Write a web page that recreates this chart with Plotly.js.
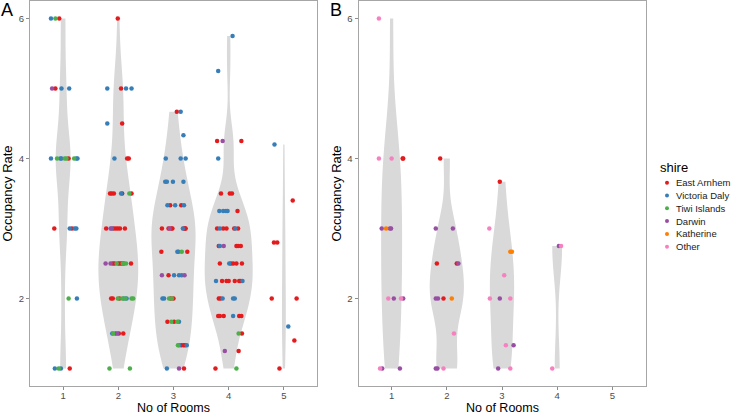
<!DOCTYPE html>
<html><head><meta charset="utf-8">
<script src="https://cdn.plot.ly/plotly-3.0.1.min.js"></script>
<style>html,body{margin:0;padding:0;background:#fff}#chart{width:734px;height:416px}</style>
</head><body><div id="chart"></div>
<script>
// ---- categories / legend ----
const shires = ["East Arnhem","Victoria Daly","Tiwi Islands","Darwin","Katherine","Other"];
const shireColors = ["#E41A1C","#377EB8","#4DAF4A","#984EA3","#FF7F00","#F781BF"];
const roomTicks = [1,2,3,4,5];
const rateTicks = [2,4,6];

// ---- Panel A: jittered room position, occupancy rate, shire index ----
const A_x = [
 0.78,0.86,0.93, 0.80,0.86,0.97,1.11, 0.78,0.89,0.95,0.97,1.03,1.06,1.10,1.20,1.24,1.26, 0.84,1.12,1.16,1.21,1.24, 1.10,1.25, 0.85,0.92,0.96,1.12,
 1.99, 1.80,2.05,2.14,2.24, 1.80,2.07, 1.93,2.16,2.19, 1.85,1.88,1.92,2.05,2.07,2.20,2.24, 1.78,1.86,1.88,1.91,1.95,1.99,2.03,2.12,
 1.77,1.86,1.90,1.93,1.97,2.00,2.03,2.06,2.08,2.10,2.14,2.23, 1.87,1.90,1.99,2.02,2.07,2.10,2.13,2.15,2.24,2.27, 1.89,1.91,1.95,1.98,2.01,2.09, 1.84,2.21,
 3.06,3.13, 3.18, 2.86,3.13,3.22, 2.85,2.88,2.99,3.18, 2.89,2.94,3.03,3.14,3.19, 2.79,2.91,2.93,2.96,2.98,3.17,3.19,3.21,3.22,
 2.78,3.07,3.09,3.15,3.25, 2.79,2.91,3.01,3.10,3.15,3.20, 2.80,2.83,2.92,2.95,2.97,3.00, 2.89,2.96,3.01,3.07,3.10, 3.08,3.10,3.14,3.18,3.21,3.24, 2.88,3.10,3.19,
 4.07, 3.81, 3.79,3.89,4.23, 3.81, 3.86,4.02,4.06, 3.83,3.90,3.95,3.98,4.16, 3.79,3.84,3.90,3.96,4.10,4.12,4.17, 3.82,3.84,3.91,4.14,4.17,4.22,
 3.84,4.01,4.04,4.08,4.14,4.24, 3.77,3.88,3.96,4.00,4.11,4.19,4.22,4.25, 3.82,3.85,3.89,4.08,4.11, 3.81,3.84,3.91,4.08,4.19,4.23, 4.18,4.24, 3.93,4.18, 3.76,4.14,
 4.83, 5.16, 4.82,4.88, 4.78,5.23, 5.08, 5.19, 4.92
];
const A_y = [
 6,6,6, 5,5,5,5, 4,4,4,4,4,4,4,4,4,4, 3,3,3,3,3, 2,2, 1,1,1,1,
 6, 5,5,5,5, 4.5,4.5, 4,4,4, 3.5,3.5,3.5,3.5,3.5,3.5,3.5, 3,3,3,3,3,3,3,3,
 2.5,2.5,2.5,2.5,2.5,2.5,2.5,2.5,2.5,2.5,2.5,2.5, 2,2,2,2,2,2,2,2,2,2, 1.5,1.5,1.5,1.5,1.5,1.5, 1,1,
 4.667,4.667, 4.333, 4,4,4, 3.667,3.667,3.667,3.667, 3.333,3.333,3.333,3.333,3.333, 3,3,3,3,3,3,3,3,3,
 2.667,2.667,2.667,2.667,2.667, 2.333,2.333,2.333,2.333,2.333,2.333, 2,2,2,2,2,2, 1.667,1.667,1.667,1.667,1.667, 1.333,1.333,1.333,1.333,1.333,1.333, 1,1,1,
 5.75, 5.25, 4.25,4.25,4.25, 4, 3.5,3.5,3.5, 3.25,3.25,3.25,3.25,3.25, 3,3,3,3,3,3,3, 2.75,2.75,2.75,2.75,2.75,2.75,
 2.5,2.5,2.5,2.5,2.5,2.5, 2.25,2.25,2.25,2.25,2.25,2.25,2.25,2.25, 2,2,2,2,2, 1.75,1.75,1.75,1.75,1.75,1.75, 1.5,1.5, 1.25,1.25, 1,1,
 4.2, 3.4, 2.8,2.8, 2,2, 1.6, 1.4, 1
];
const A_s = [
 1,2,0, 3,0,1,1, 1,2,1,1,2,2,0,2,1,1, 0,1,0,1,1, 2,1, 1,2,1,0,
 0, 1,0,1,1, 1,0, 1,0,0, 0,0,0,1,0,2,0, 0,3,1,0,0,0,0,0,
 3,3,0,0,2,0,0,0,2,0,2,0, 0,0,2,0,2,1,2,1,2,2, 1,2,0,3,0,0, 2,2,
 0,1, 1, 1,1,1, 1,1,1,1, 1,0,1,0,1, 0,0,3,0,0,1,0,0,0,
 0,1,1,2,0, 3,0,1,1,1,3, 1,1,2,0,2,0, 0,2,0,2,1, 2,1,0,0,0,1, 1,3,0,
 1, 1, 0,3,0, 1, 0,0,0, 1,1,1,1,0, 0,1,0,0,0,1,0, 0,1,3,0,0,0,
 0,1,0,0,0,0, 1,0,0,0,0,0,0,1, 0,0,1,1,1, 0,0,0,1,0,0, 2,0, 3,0, 0,2,
 1, 0, 0,0, 0,0, 1, 0, 0
];

// ---- Panel B ----
const B_x = [
 0.77, 0.77,1.00,1.20,1.21, 0.82,0.90,0.97,0.99, 0.94,1.04,1.17,1.21, 0.79,0.83,1.15,
 1.88, 1.80,2.11, 1.82,2.18,2.21, 1.80,1.84,1.94,2.09, 2.13, 1.80,1.83,1.94,
 2.96, 2.77, 3.15,3.18, 3.04, 2.78,2.96,3.15, 3.07,3.21, 2.93,3.15,
 4.03,4.07, 3.91
];
const B_y = [
 6, 4,4,4,4, 3,3,3,3, 2,2,2,2, 1,1,1,
 4, 3,3, 2.5,2.5,2.5, 2,2,2,2, 1.5, 1,1,1,
 3.667, 3, 2.667,2.667, 2.333, 2,2,2, 1.333,1.333, 1,1,
 2.75,2.75, 1
];
const B_s = [
 5, 5,5,0,0, 3,4,3,3, 5,3,5,3, 5,3,3,
 0, 3,3, 0,0,3, 3,3,0,4, 5, 3,3,5,
 0, 5, 4,4, 5, 5,3,5, 5,3, 3,5,
 3,5, 5
];

// ---- styling (sizes, not data) ----
const violinWidthA = {1:0.27, 2:0.72, 3:0.80, 4:0.87, 5:0.07};
const violinWidthB = {1:0.38, 2:0.62, 3:0.44, 4:0.18};

function bwNrd0(v){
  const n=v.length; const s=[...v].sort((a,b)=>a-b);
  const m=s.reduce((a,b)=>a+b,0)/n;
  const sd=Math.sqrt(s.reduce((a,b)=>a+(b-m)*(b-m),0)/(n-1));
  const q=p=>{const h=(n-1)*p, lo=Math.floor(h), hi=Math.min(lo+1,n-1); return s[lo]+(h-lo)*(s[hi]-s[lo]);};
  let lo=Math.min(sd,(q(0.75)-q(0.25))/1.34);
  if(!(lo>0)) lo = sd || Math.abs(s[0]) || 1;
  return 0.9*lo*Math.pow(n,-0.2);
}

const traces=[];
function addPanel(xs, ys, ss, widths, xa, ya){
  const groups={};
  xs.forEach((x,i)=>{const r=Math.round(x); (groups[r]=groups[r]||[]).push(ys[i]);});
  Object.keys(groups).forEach(r=>{
    const vals=groups[r];
    traces.push({type:'violin', x0:+r, y:vals, xaxis:xa, yaxis:ya, name:xa+'_'+r,
      width:widths[r], spanmode:'hard', scalemode:'width', bandwidth:bwNrd0(vals),
      fillcolor:'#D9D9D9', line:{width:0,color:'rgba(0,0,0,0)'}, points:false,
      box:{visible:false}, meanline:{visible:false}, hoverinfo:'skip', showlegend:false});
  });
  shires.forEach((sh,k)=>{
    const px=[],py=[];
    xs.forEach((x,i)=>{ if(ss[i]===k){px.push(x);py.push(ys[i]);} });
    if(px.length) traces.push({type:'scatter', mode:'markers', x:px, y:py, xaxis:xa, yaxis:ya, name:sh,
      marker:{size:4.5, color:shireColors[k], line:{width:0}}, showlegend:false, hoverinfo:'skip'});
  });
}
addPanel(A_x,A_y,A_s,violinWidthA,'x','y');
addPanel(B_x,B_y,B_s,violinWidthB,'x2','y2');

const W=734,H=416;
const px=v=>v/W, py=v=>1-v/H;
const axisBase={showgrid:false, zeroline:false, showline:true, mirror:true, linecolor:'#A6A6A6', linewidth:1,
  ticks:'outside', ticklen:3, tickwidth:1, tickcolor:'#8C8C8C', tickfont:{size:9.5,color:'#4D4D4D'}, fixedrange:true};
const yDomain=[30/H, 415/H];
const layout={
  width:W, height:H, margin:{l:0,r:0,t:0,b:0}, paper_bgcolor:'#fff', plot_bgcolor:'#fff',
  showlegend:false, violinmode:'overlay', violingap:0,
  font:{family:'Liberation Sans, Arial, sans-serif', color:'#000'},
  xaxis:Object.assign({}, axisBase, {domain:[30/W,317/W], range:[0.4,5.6], type:'linear', tickvals:roomTicks, ticktext:roomTicks.map(String), anchor:'y', ticklabelstandoff:-2}),
  yaxis:Object.assign({}, axisBase, {domain:yDomain, range:[0.75,6.25], type:'linear', tickvals:rateTicks, ticktext:rateTicks.map(String), anchor:'x'}),
  xaxis2:Object.assign({}, axisBase, {domain:[358.5/W,645.5/W], range:[0.4,5.6], type:'linear', tickvals:roomTicks, ticktext:roomTicks.map(String), anchor:'y2', ticklabelstandoff:-2}),
  yaxis2:Object.assign({}, axisBase, {domain:yDomain, range:[0.75,6.25], type:'linear', tickvals:rateTicks, ticktext:rateTicks.map(String), anchor:'x2'}),
  annotations:[], shapes:[]
};
const ann=(text,x,y,o)=>layout.annotations.push(Object.assign({text, x:px(x), y:py(y), xref:'paper', yref:'paper', showarrow:false,
  xanchor:'center', yanchor:'middle', borderpad:0, font:{size:13,color:'#000'}}, o||{}));
ann('A',0,10,{xanchor:'left',font:{size:18,color:'#000'}});
ann('B',329,10,{xanchor:'left',font:{size:18,color:'#000'}});
ann('No of Rooms',173.5,416,{yanchor:'bottom',font:{size:12.5,color:'#000'}});
ann('No of Rooms',502,416,{yanchor:'bottom',font:{size:12.5,color:'#000'}});
ann('Occupancy Rate',7,193.5,{textangle:-90});
ann('Occupancy Rate',336,193.5,{textangle:-90});
ann('shire',659,167,{xanchor:'left',font:{size:13,color:'#000'}});
const legY=[182.7,195.5,208.3,221.1,233.9,246.8];
shires.forEach((sh,k)=>{
  ann(sh,674.5,legY[k],{xanchor:'left',font:{size:9.5,color:'#1A1A1A'}});
  const r=2;
  layout.shapes.push({type:'circle', xref:'paper', yref:'paper', x0:px(667-r), x1:px(667+r), y0:py(legY[k]+r), y1:py(legY[k]-r),
    fillcolor:shireColors[k], line:{width:0}});
});
Plotly.newPlot('chart', traces, layout, {displayModeBar:false, staticPlot:true});
</script>
</body></html>
